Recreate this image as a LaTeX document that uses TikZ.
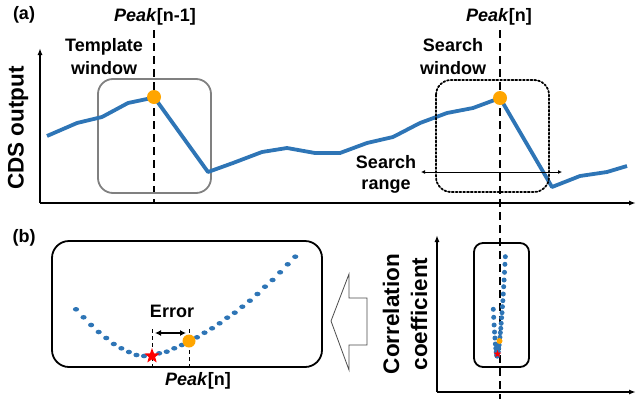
\documentclass[tikz,border=0pt]{standalone}
\usepackage{fontspec}
\setmainfont{Liberation Sans}
\usepackage{xcolor}
\usepackage{tikz}
\usetikzlibrary{arrows.meta,positioning,shapes.geometric}
\definecolor{cdsblue}{RGB}{46,117,182}
\definecolor{pkorange}{RGB}{255,165,0}

\begin{document}
\begin{tikzpicture}[
    x=1pt, y=-1pt,
    lbl/.style={font=\fontsize{18}{23}\selectfont\bfseries, align=center, inner sep=0pt},
    axlbl/.style={font=\fontsize{22.5}{28}\selectfont\bfseries, align=center, rotate=90, inner sep=0pt},
    axis/.style={-{Latex[length=7pt, width=5pt]}, line width=1.6pt},
    guide/.style={line width=1.7pt, dash pattern=on 8pt off 5pt},
    thinguide/.style={line width=0.9pt, dash pattern=on 4pt off 3pt},
    curve/.style={line width=3.8pt, cdsblue, line join=round},
    peakdot/.style={circle, fill=pkorange, minimum size=14pt, inner sep=0pt},
    win/.style={rounded corners=15pt, line width=1.8pt},
    dbl/.style={{Latex[length=4pt, width=4pt]}-{Latex[length=4pt, width=4pt]}, line width=0.9pt},
    best/.style={star, star points=5, star point ratio=2.4, fill=red, inner sep=0pt}
  ]
    \useasboundingbox (0,0) rectangle (636,399);

    \coordinate (o1) at (40,203);
    \coordinate (ytop1) at (40,48);
    \coordinate (xend1) at (636,203);
    \coordinate (o2) at (437,392);
    \coordinate (ytop2) at (437,235);
    \coordinate (xend2) at (636,392);
    \coordinate (gA1) at (154,30);
    \coordinate (gA2) at (154,204);
    \coordinate (gB1) at (500,30);
    \coordinate (gB2) at (500,399);

    \node[lbl] (la) at (24,15) {(a)};
    \node[lbl] (lb) at (24,238) {(b)};
    \node[lbl] (pkprev) at (155,17) {\textit{Peak}[n-1]};
    \node[lbl] (pknow) at (499,17) {\textit{Peak}[n]};
    \node[lbl] (tmpl) at (104,57) {Template\\window};
    \node[lbl] (srch) at (453,57) {Search\\window};
    \node[lbl, font=\fontsize{18}{21}\selectfont\bfseries] (rng) at (386,174) {Search\\range};
    \node[axlbl] (cds) at (18,128) {CDS output};
    \node[axlbl] (corr) at (405,314) {Correlation\\coefficient};
    \node[lbl] (err) at (172,311) {Error};
    \node[lbl] (pkbot) at (198,381) {\textit{Peak}[n]};

    \draw[guide] (gA1) -- (gA2);
    \draw[guide] (gB1) -- (gB2);

    \draw[win, draw=black!50] (98,79) rectangle (211,193);
    \draw[curve] plot coordinates {(47,136) (77,123) (102,117) (128,103) (147,99) (154,97)
      (208,172) (233,163) (262,152) (287,148) (315,153) (340,153) (367,143) (393,137)
      (420,123) (447,113) (473,108) (500,98) (552,187) (580,176) (607,172) (627,166)};
    \draw[win, dotted, line cap=round] (436,80) rectangle (549,192);
    \draw[dbl] (421,172) -- (562,172);
    \node[peakdot] (pk1) at (154,97) {};
    \node[peakdot] (pk2) at (500,98) {};

    \draw[axis] (o1) -- (ytop1);
    \draw[axis] (o1) -- (xend1);

    \draw[line width=1.8pt, rounded corners=17pt] (52,241) rectangle (322,367);
    \draw[thinguide] (152,329) -- (152,366);
    \draw[thinguide] (189,329) -- (189,366);
    \foreach \yv [count=\i from 0] in {309.3,317.3,325,332,338,344,348.3,352,355,356,356,353.3,351.7,348.3,345,340.7,337.3,332.7,328.3,323.3,317.7,312.7,306.7,300.7,294,286.7,280,272.3,264.3,256.7}
      \fill[cdsblue] ({76+7.56*\i},\yv) ellipse (3.1 and 2.3);
    \node[best, minimum size=16pt] (star1) at (152,356) {};
    \node[peakdot, minimum size=13pt] (pk3) at (189,341) {};
    \draw[dbl, line width=1.8pt, {Latex[length=6pt, width=6pt]}-{Latex[length=6pt, width=6pt]}] (155,333) -- (186,333);

    \draw[black!70, line width=0.8pt, fill=white] (331,321) -- (349,274) -- (349,298) -- (367,298)
      -- (367,345) -- (349,345) -- (349,370) -- cycle;

    \draw[line width=1.8pt, rounded corners=9pt] (474,243) rectangle (529,367);
    \foreach \yv [count=\i from 0] in {309.3,317.3,325,332,338,344,348.3,352,355,356,356,353.3,351.7,348.3,345,340.7,337.3,332.7,328.3,323.3,317.7,312.7,306.7,300.7,294,286.7,280,272.3,264.3,256.7}
      \fill[cdsblue] ({499.5+0.055*(76+7.56*\i-189)},\yv) circle (2.5);
    \node[peakdot, minimum size=6pt] (pk4) at (499.5,341) {};
    \node[best, minimum size=8pt] (star2) at (497.5,354) {};
    \draw[axis] (o2) -- (ytop2);
    \draw[axis] (o2) -- (xend2);
  \end{tikzpicture}
\end{document}
